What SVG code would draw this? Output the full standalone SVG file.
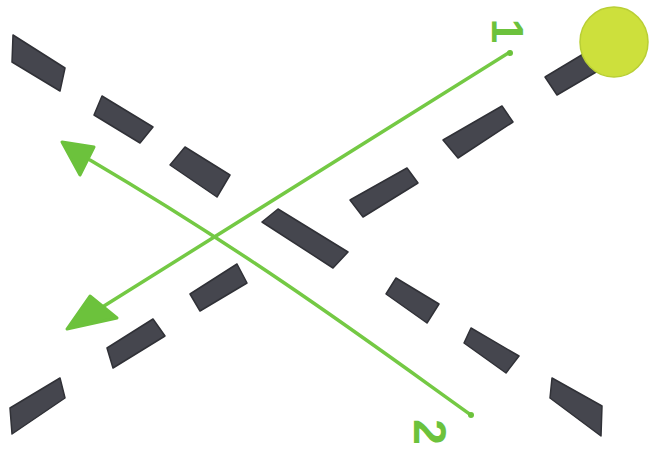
<svg xmlns="http://www.w3.org/2000/svg" width="654" height="456" viewBox="0 0 654 456">
  <style>
    .dash { fill: #45464e; stroke: #303137; stroke-width: 1.5; stroke-linejoin: round; }
    .arrow { fill: none; stroke: #74c944; stroke-width: 3.5; stroke-linecap: round; stroke-linejoin: round; }
    .head { fill: #6cc23c; stroke: #6cc23c; stroke-width: 3; stroke-linejoin: round; }
    .tail { fill: #6cc23c; }
    .label { font-family: "Liberation Sans", Arial, sans-serif; fill: #6cc23c; }
  </style>
  <rect width="654" height="456" fill="#ffffff"/>

  <g id="lane-descending">
    <polygon class="dash" points="13,35 65,68 60,91 12,62"/>
    <polygon class="dash" points="102,96 153,127 140,143 94,115"/>
    <polygon class="dash" points="185,147 230,175 217,197 170,165"/>
    <polygon class="dash" points="278,209 348,252 333,268 262,222"/>
    <polygon class="dash" points="396,278 439,304 427,323 386,294"/>
    <polygon class="dash" points="471,328 519,356 506,373 464,343"/>
    <polygon class="dash" points="552,378 602,406 601,436 550,398"/>
  </g>

  <g id="lane-ascending">
    <polygon class="dash" points="10,408 60,378 65,398 12,434"/>
    <polygon class="dash" points="107,348 153,319 165,336 113,368"/>
    <polygon class="dash" points="190,294 237,264 247,283 200,311"/>
    <polygon class="dash" points="350,200 407,168 418,183 363,217"/>
    <polygon class="dash" points="443,140 502,106 513,122 458,158"/>
    <polygon class="dash" points="545,77 590,50 603,68 557,95"/>
  </g>

  <g id="ball">
    <ellipse cx="614" cy="42" rx="34" ry="35" fill="#cde03c" stroke="#b9cf34" stroke-width="1.5"/>
  </g>

  <g id="connectors">
    <g id="arrow-1">
      <path class="arrow" d="M510,52 L104,306"/>
      <polygon class="head" points="90,296 117,318 67,329"/>
      <circle class="tail" cx="510" cy="53" r="3"/>
    </g>
    <g id="arrow-2">
      <path class="arrow" d="M471,415 C380,350 260,260 90,160"/>
      <polygon class="head" points="62,142 94,147 80,175"/>
      <circle class="tail" cx="471" cy="415" r="3"/>
    </g>
  </g>

  <g id="labels">
    <text class="label" font-size="44" font-weight="bold" transform="translate(507,31) rotate(90)" text-anchor="middle" dominant-baseline="central">1</text>
    <text class="label" font-size="46" font-weight="bold" transform="translate(430,432) rotate(90)" text-anchor="middle" dominant-baseline="central">2</text>
  </g>
</svg>
